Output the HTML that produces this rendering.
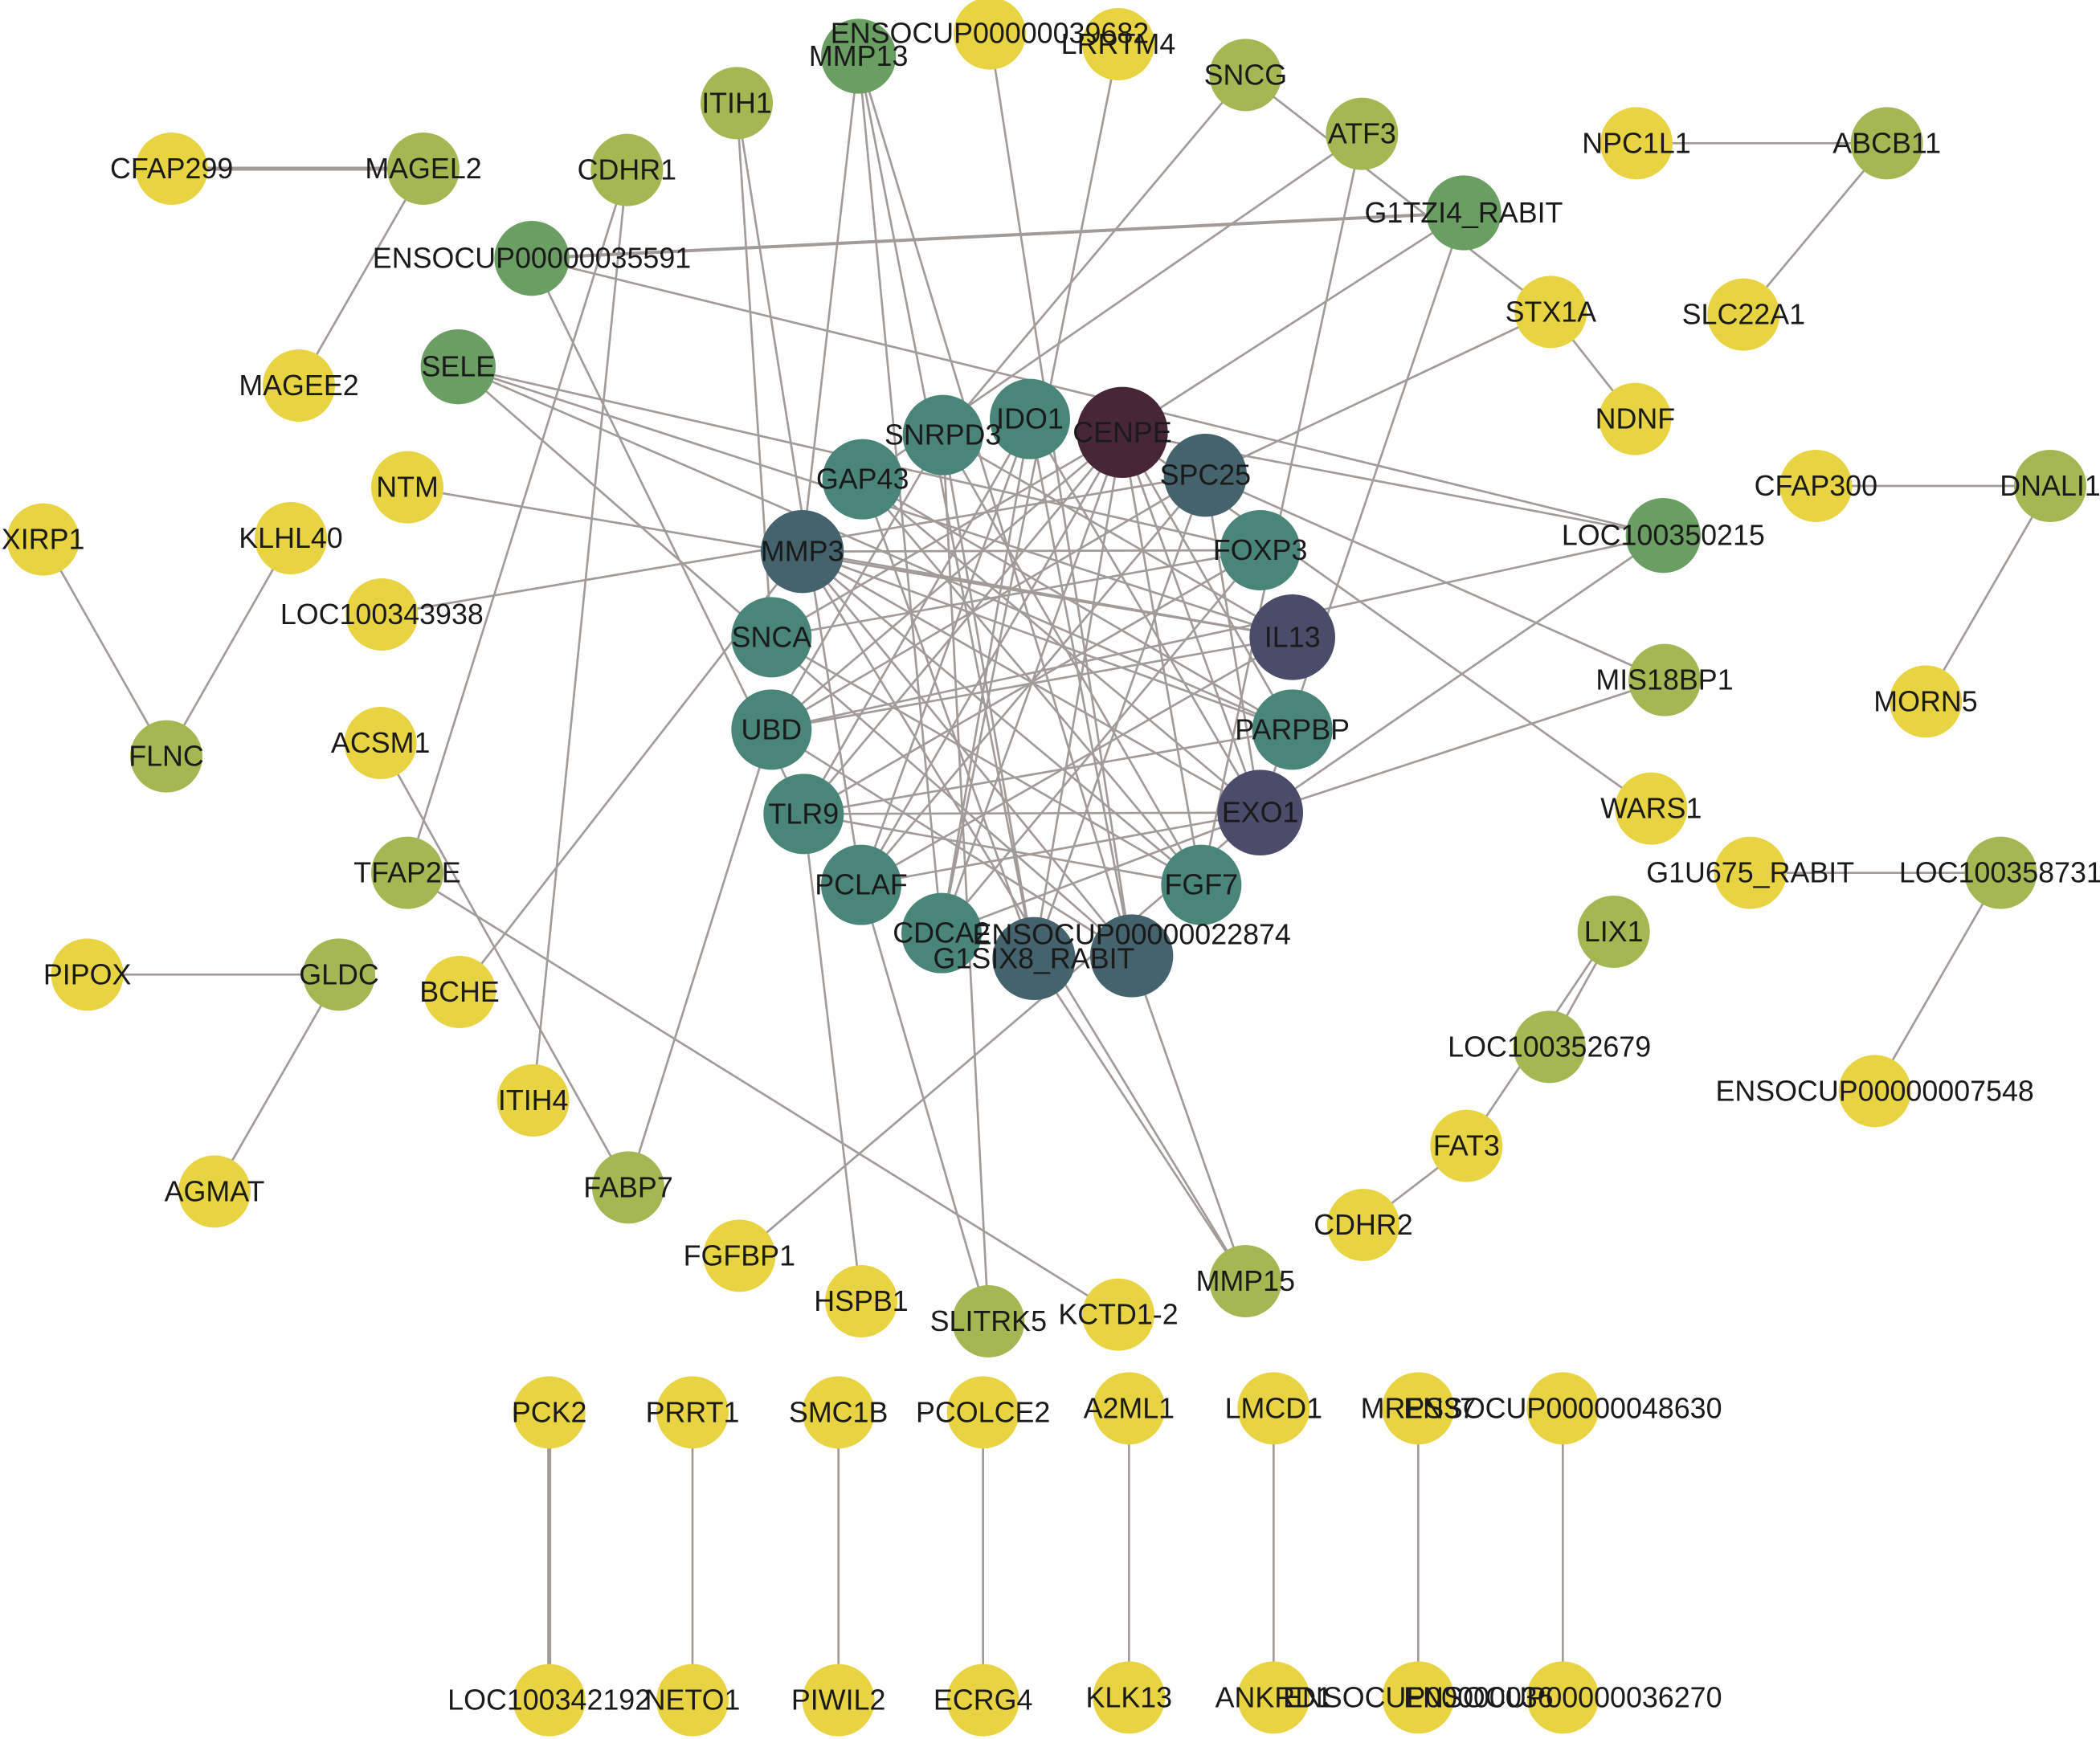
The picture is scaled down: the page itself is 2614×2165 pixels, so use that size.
<!DOCTYPE html>
<html><head><meta charset="utf-8"><style>
html,body{margin:0;padding:0;background:#fff;}
svg{display:block;}
text{font-family:"Liberation Sans",sans-serif;font-size:21.5px;fill:#1a1a1a;text-anchor:middle;dominant-baseline:central;}
.e line{stroke:#a29b98;stroke-width:1.6;}
</style></head><body>
<svg width="2614" height="2165" viewBox="0 0 1568 1299" xmlns="http://www.w3.org/2000/svg">
<g class="e">
<line x1="128" y1="126" x2="316" y2="126" style="stroke-width:3"/>
<line x1="316" y1="126" x2="223" y2="288"/>
<line x1="32" y1="403" x2="124" y2="565"/>
<line x1="217" y1="402" x2="124" y2="565"/>
<line x1="65" y1="728" x2="253" y2="728"/>
<line x1="253" y1="728" x2="160" y2="890"/>
<line x1="1222" y1="107" x2="1409" y2="107"/>
<line x1="1409" y1="107" x2="1302" y2="235"/>
<line x1="1356" y1="363" x2="1531" y2="363"/>
<line x1="1531" y1="363" x2="1438" y2="524"/>
<line x1="1307" y1="652" x2="1494" y2="652"/>
<line x1="1494" y1="652" x2="1400" y2="815"/>
<line x1="1205" y1="696" x2="1157" y2="782"/>
<line x1="1200" y1="700" x2="1095" y2="856"/>
<line x1="1095" y1="856" x2="1018" y2="915"/>
<line x1="930" y1="56" x2="1158" y2="233"/>
<line x1="1158" y1="233" x2="1221" y2="313"/>
<line x1="397" y1="193" x2="1093" y2="159" style="stroke-width:2.4"/>
<line x1="410" y1="1055" x2="410" y2="1270" style="stroke-width:3"/>
<line x1="517" y1="1055" x2="517" y2="1270"/>
<line x1="626" y1="1055" x2="626" y2="1270"/>
<line x1="734" y1="1055" x2="734" y2="1270"/>
<line x1="843" y1="1052" x2="843" y2="1268"/>
<line x1="951" y1="1052" x2="951" y2="1268"/>
<line x1="1059" y1="1052" x2="1059" y2="1268"/>
<line x1="1167" y1="1052" x2="1167" y2="1268"/>
<line x1="641" y1="42" x2="599" y2="412"/>
<line x1="641" y1="42" x2="703" y2="697"/>
<line x1="641" y1="42" x2="772" y2="716"/>
<line x1="641" y1="42" x2="845" y2="714"/>
<line x1="739" y1="25" x2="845" y2="714"/>
<line x1="835" y1="33" x2="703" y2="697"/>
<line x1="930" y1="56" x2="704" y2="325"/>
<line x1="1017" y1="100" x2="644" y2="358"/>
<line x1="1017" y1="100" x2="897" y2="661"/>
<line x1="1093" y1="159" x2="941" y2="607"/>
<line x1="1093" y1="159" x2="838" y2="323"/>
<line x1="1158" y1="233" x2="900" y2="355"/>
<line x1="550" y1="77" x2="576" y2="476"/>
<line x1="550" y1="77" x2="643" y2="661"/>
<line x1="468" y1="127" x2="304" y2="652"/>
<line x1="468" y1="127" x2="398" y2="822"/>
<line x1="397" y1="193" x2="600" y2="608"/>
<line x1="397" y1="193" x2="1242" y2="400"/>
<line x1="342" y1="274" x2="965" y2="476"/>
<line x1="342" y1="274" x2="965" y2="545"/>
<line x1="342" y1="274" x2="941" y2="411"/>
<line x1="342" y1="274" x2="845" y2="714"/>
<line x1="304" y1="364" x2="965" y2="476"/>
<line x1="285" y1="459" x2="900" y2="355"/>
<line x1="284" y1="555" x2="469" y2="887"/>
<line x1="304" y1="652" x2="835" y2="982"/>
<line x1="343" y1="741" x2="599" y2="412"/>
<line x1="469" y1="887" x2="576" y2="545"/>
<line x1="552" y1="938" x2="941" y2="607"/>
<line x1="643" y1="972" x2="600" y2="608"/>
<line x1="738" y1="987" x2="643" y2="661"/>
<line x1="738" y1="987" x2="704" y2="325"/>
<line x1="930" y1="957" x2="772" y2="716"/>
<line x1="930" y1="957" x2="599" y2="412"/>
<line x1="930" y1="957" x2="845" y2="714"/>
<line x1="1242" y1="400" x2="941" y2="607"/>
<line x1="1242" y1="400" x2="576" y2="545"/>
<line x1="1242" y1="400" x2="838" y2="323"/>
<line x1="1243" y1="508" x2="941" y2="607"/>
<line x1="1243" y1="508" x2="900" y2="355"/>
<line x1="1233" y1="604" x2="838" y2="323"/>
<line x1="838" y1="323" x2="576" y2="476"/>
<line x1="838" y1="323" x2="576" y2="545"/>
<line x1="838" y1="323" x2="600" y2="608"/>
<line x1="838" y1="323" x2="643" y2="661"/>
<line x1="838" y1="323" x2="703" y2="697"/>
<line x1="838" y1="323" x2="772" y2="716"/>
<line x1="838" y1="323" x2="941" y2="607"/>
<line x1="838" y1="323" x2="897" y2="661"/>
<line x1="838" y1="323" x2="965" y2="545"/>
<line x1="900" y1="355" x2="576" y2="545"/>
<line x1="900" y1="355" x2="643" y2="661"/>
<line x1="900" y1="355" x2="772" y2="716"/>
<line x1="900" y1="355" x2="941" y2="607"/>
<line x1="941" y1="411" x2="600" y2="608"/>
<line x1="941" y1="411" x2="703" y2="697"/>
<line x1="941" y1="411" x2="599" y2="412"/>
<line x1="965" y1="476" x2="599" y2="412"/>
<line x1="965" y1="476" x2="576" y2="545"/>
<line x1="965" y1="476" x2="643" y2="661"/>
<line x1="965" y1="476" x2="704" y2="325"/>
<line x1="965" y1="545" x2="599" y2="412"/>
<line x1="965" y1="545" x2="644" y2="358"/>
<line x1="941" y1="607" x2="600" y2="608"/>
<line x1="941" y1="607" x2="703" y2="697"/>
<line x1="941" y1="607" x2="599" y2="412"/>
<line x1="941" y1="607" x2="643" y2="661"/>
<line x1="897" y1="661" x2="576" y2="476"/>
<line x1="897" y1="661" x2="644" y2="358"/>
<line x1="845" y1="714" x2="599" y2="412"/>
<line x1="845" y1="714" x2="769" y2="313"/>
<line x1="772" y1="716" x2="704" y2="325"/>
<line x1="772" y1="716" x2="644" y2="358"/>
<line x1="703" y1="697" x2="769" y2="313"/>
<line x1="643" y1="661" x2="769" y2="313"/>
<line x1="600" y1="608" x2="769" y2="313"/>
<line x1="576" y1="545" x2="704" y2="325"/>
<line x1="600" y1="608" x2="965" y2="545"/>
<line x1="576" y1="476" x2="941" y2="411"/>
<line x1="599" y1="412" x2="897" y2="661"/>
<line x1="644" y1="358" x2="941" y2="607"/>
<line x1="704" y1="325" x2="897" y2="661"/>
<line x1="769" y1="313" x2="941" y2="607"/>
<line x1="576" y1="545" x2="845" y2="714"/>
<line x1="600" y1="608" x2="897" y2="661"/>
</g>
<g id="nodes">
<circle cx="838" cy="323" r="34" fill="#472638"/>
<circle cx="769" cy="313" r="30" fill="#4a857a"/>
<circle cx="704" cy="325" r="30" fill="#4a857a"/>
<circle cx="644" cy="358" r="30" fill="#4a857a"/>
<circle cx="599" cy="412" r="31" fill="#44636c"/>
<circle cx="576" cy="476" r="30" fill="#4a857a"/>
<circle cx="576" cy="545" r="30" fill="#4a857a"/>
<circle cx="600" cy="608" r="30" fill="#4a857a"/>
<circle cx="643" cy="661" r="30" fill="#4a857a"/>
<circle cx="703" cy="697" r="30" fill="#4a857a"/>
<circle cx="845" cy="714" r="31" fill="#44636c"/>
<circle cx="772" cy="716" r="31" fill="#44636c"/>
<circle cx="897" cy="661" r="30" fill="#4a857a"/>
<circle cx="941" cy="607" r="32" fill="#4a4c6a"/>
<circle cx="965" cy="545" r="30" fill="#4a857a"/>
<circle cx="965" cy="476" r="32" fill="#4a4c6a"/>
<circle cx="941" cy="411" r="30" fill="#4a857a"/>
<circle cx="900" cy="355" r="31" fill="#44636c"/>
<circle cx="641" cy="42" r="28" fill="#6a9e62"/>
<circle cx="1093" cy="159" r="28" fill="#6a9e62"/>
<circle cx="397" cy="193" r="28" fill="#6a9e62"/>
<circle cx="342" cy="274" r="28" fill="#6a9e62"/>
<circle cx="1242" cy="400" r="28" fill="#6a9e62"/>
<circle cx="930" cy="56" r="27" fill="#a3b752"/>
<circle cx="550" cy="77" r="27" fill="#a3b752"/>
<circle cx="1017" cy="100" r="27" fill="#a3b752"/>
<circle cx="468" cy="127" r="27" fill="#a3b752"/>
<circle cx="316" cy="126" r="27" fill="#a3b752"/>
<circle cx="124" cy="565" r="27" fill="#a3b752"/>
<circle cx="304" cy="652" r="27" fill="#a3b752"/>
<circle cx="253" cy="728" r="27" fill="#a3b752"/>
<circle cx="469" cy="887" r="27" fill="#a3b752"/>
<circle cx="738" cy="987" r="27" fill="#a3b752"/>
<circle cx="930" cy="957" r="27" fill="#a3b752"/>
<circle cx="1157" cy="782" r="27" fill="#a3b752"/>
<circle cx="1205" cy="696" r="27" fill="#a3b752"/>
<circle cx="1494" cy="652" r="27" fill="#a3b752"/>
<circle cx="1243" cy="508" r="27" fill="#a3b752"/>
<circle cx="1531" cy="363" r="27" fill="#a3b752"/>
<circle cx="1409" cy="107" r="27" fill="#a3b752"/>
<g fill="#e8d442">
<circle cx="739" cy="25" r="27"/>
<circle cx="835" cy="33" r="27"/>
<circle cx="128" cy="126" r="27"/>
<circle cx="223" cy="288" r="27"/>
<circle cx="304" cy="364" r="27"/>
<circle cx="32" cy="403" r="27"/>
<circle cx="217" cy="402" r="27"/>
<circle cx="285" cy="459" r="27"/>
<circle cx="284" cy="555" r="27"/>
<circle cx="65" cy="728" r="27"/>
<circle cx="343" cy="741" r="27"/>
<circle cx="160" cy="890" r="27"/>
<circle cx="398" cy="822" r="27"/>
<circle cx="552" cy="938" r="27"/>
<circle cx="643" cy="972" r="27"/>
<circle cx="835" cy="982" r="27"/>
<circle cx="1018" cy="915" r="27"/>
<circle cx="1095" cy="856" r="27"/>
<circle cx="1400" cy="815" r="27"/>
<circle cx="1307" cy="652" r="27"/>
<circle cx="1233" cy="604" r="27"/>
<circle cx="1438" cy="524" r="27"/>
<circle cx="1356" cy="363" r="27"/>
<circle cx="1221" cy="313" r="27"/>
<circle cx="1158" cy="233" r="27"/>
<circle cx="1302" cy="235" r="27"/>
<circle cx="1222" cy="107" r="27"/>
<circle cx="410" cy="1055" r="27"/><circle cx="410" cy="1270" r="27"/>
<circle cx="517" cy="1055" r="27"/><circle cx="517" cy="1270" r="27"/>
<circle cx="626" cy="1055" r="27"/><circle cx="626" cy="1270" r="27"/>
<circle cx="734" cy="1055" r="27"/><circle cx="734" cy="1270" r="27"/>
<circle cx="843" cy="1052" r="27"/><circle cx="843" cy="1268" r="27"/>
<circle cx="951" cy="1052" r="27"/><circle cx="951" cy="1268" r="27"/>
<circle cx="1059" cy="1052" r="27"/><circle cx="1059" cy="1268" r="27"/>
<circle cx="1167" cy="1052" r="27"/><circle cx="1167" cy="1268" r="27"/>
</g>
</g>
<g id="labels">
<text x="838" y="323">CENPE</text>
<text x="769" y="313">IDO1</text>
<text x="704" y="325">SNRPD3</text>
<text x="644" y="358">GAP43</text>
<text x="599" y="412">MMP3</text>
<text x="576" y="476">SNCA</text>
<text x="576" y="545">UBD</text>
<text x="600" y="608">TLR9</text>
<text x="643" y="661">PCLAF</text>
<text x="703" y="697">CDCA2</text>
<text x="845" y="698">ENSOCUP00000022874</text>
<text x="772" y="716">G1SIX8_RABIT</text>
<text x="897" y="661">FGF7</text>
<text x="941" y="607">EXO1</text>
<text x="965" y="545">PARPBP</text>
<text x="965" y="476">IL13</text>
<text x="941" y="411">FOXP3</text>
<text x="900" y="355">SPC25</text>
<text x="739" y="25">ENSOCUP00000039682</text>
<text x="641" y="42">MMP13</text>
<text x="835" y="33">LRRTM4</text>
<text x="930" y="56">SNCG</text>
<text x="550" y="77">ITIH1</text>
<text x="1017" y="100">ATF3</text>
<text x="1093" y="159">G1TZI4_RABIT</text>
<text x="468" y="127">CDHR1</text>
<text x="316" y="126">MAGEL2</text>
<text x="128" y="126">CFAP299</text>
<text x="397" y="193">ENSOCUP00000035591</text>
<text x="223" y="288">MAGEE2</text>
<text x="342" y="274">SELE</text>
<text x="304" y="364">NTM</text>
<text x="32" y="403">XIRP1</text>
<text x="217" y="402">KLHL40</text>
<text x="285" y="459">LOC100343938</text>
<text x="124" y="565">FLNC</text>
<text x="284" y="555">ACSM1</text>
<text x="304" y="652">TFAP2E</text>
<text x="65" y="728">PIPOX</text>
<text x="253" y="728">GLDC</text>
<text x="343" y="741">BCHE</text>
<text x="160" y="890">AGMAT</text>
<text x="398" y="822">ITIH4</text>
<text x="469" y="887">FABP7</text>
<text x="552" y="938">FGFBP1</text>
<text x="643" y="972">HSPB1</text>
<text x="738" y="987">SLITRK5</text>
<text x="835" y="982">KCTD1-2</text>
<text x="930" y="957">MMP15</text>
<text x="1018" y="915">CDHR2</text>
<text x="1095" y="856">FAT3</text>
<text x="1157" y="782">LOC100352679</text>
<text x="1205" y="696">LIX1</text>
<text x="1400" y="815">ENSOCUP00000007548</text>
<text x="1307" y="652">G1U675_RABIT</text>
<text x="1494" y="652">LOC100358731</text>
<text x="1233" y="604">WARS1</text>
<text x="1243" y="508">MIS18BP1</text>
<text x="1438" y="524">MORN5</text>
<text x="1242" y="400">LOC100350215</text>
<text x="1356" y="363">CFAP300</text>
<text x="1531" y="363">DNALI1</text>
<text x="1221" y="313">NDNF</text>
<text x="1158" y="233">STX1A</text>
<text x="1302" y="235">SLC22A1</text>
<text x="1222" y="107">NPC1L1</text>
<text x="1409" y="107">ABCB11</text>
<text x="410" y="1055">PCK2</text>
<text x="410" y="1270">LOC100342192</text>
<text x="517" y="1055">PRRT1</text>
<text x="517" y="1270">NETO1</text>
<text x="626" y="1055">SMC1B</text>
<text x="626" y="1270">PIWIL2</text>
<text x="734" y="1055">PCOLCE2</text>
<text x="734" y="1270">ECRG4</text>
<text x="843" y="1052">A2ML1</text>
<text x="843" y="1268">KLK13</text>
<text x="951" y="1052">LMCD1</text>
<text x="951" y="1268">ANKRD1</text>
<text x="1059" y="1052">MRPS37</text>
<text x="1059" y="1268">ENSOCUP00000036</text>
<text x="1167" y="1052">ENSOCUP00000048630</text>
<text x="1167" y="1268">ENSOCUP00000036270</text>
</g>
</svg>
</body></html>
